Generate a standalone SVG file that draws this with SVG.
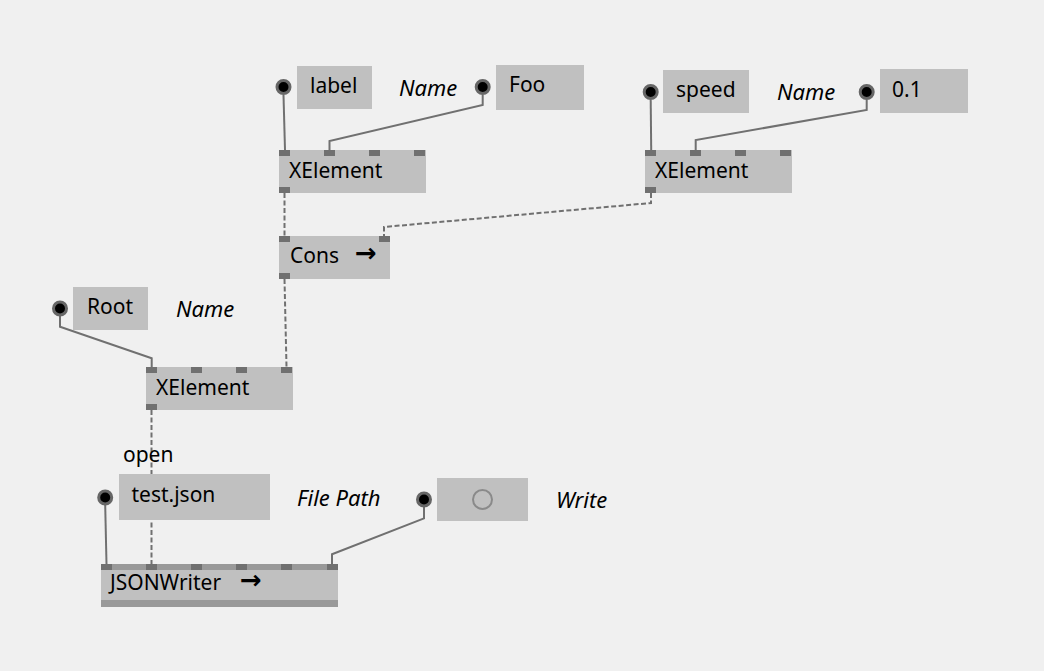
<svg xmlns="http://www.w3.org/2000/svg" width="1044" height="671" viewBox="0 0 1044 671">
<style>
.bg{fill:#f0f0f0}
.box{fill:#c0c0c0}
.pin{fill:#707070}
.strip{fill:#999999}
.t{font-family:"Noto Sans","Open Sans","DejaVu Sans",sans-serif;font-size:21px;fill:#000}
.i{font-family:"Noto Sans","Open Sans","DejaVu Sans",sans-serif;font-size:22px;font-style:italic;fill:#000}
.arr{font-family:"DejaVu Sans",sans-serif;font-weight:bold;font-size:26px}
.w{fill:none;stroke:#707070;stroke-width:2}
.d{fill:none;stroke:#707070;stroke-width:2;stroke-dasharray:5,2.5}
.io{fill:#000;stroke:#666;stroke-width:3}
</style>
<rect class="bg" x="0" y="0" width="1044" height="671"/>
<g id="connectors">
<path class="w" d="M283.5,95 L285,150"/>
<path class="w" d="M482.7,95 V105 L329.5,141 V150"/>
<path class="w" d="M650.7,100 L651.2,150"/>
<path class="w" d="M866.7,100 V110 L695.7,140 V150"/>
<path class="d" d="M284.5,193 V236"/>
<path class="d" d="M651,193 V203 L384,227 V236"/>
<path class="d" d="M284.5,279 L286.5,367"/>
<path class="w" d="M60,316 V326.7 L151.7,358.3 V367"/>
<path class="d" d="M151.5,410 V564"/>
<path class="w" d="M105.2,505 L106.5,564"/>
<path class="w" d="M424,507 V518.4 L332,554.3 V564"/>
</g>
<g id="io-label">
<circle class="io" cx="283.5" cy="87" r="6.5"/>
<rect class="box" x="297" y="66" width="75" height="43"/>
<text class="t" x="310" y="93">label</text>
</g>
<g id="lbl-name1"><text class="i" x="399" y="96">Name</text></g>
<g id="io-foo">
<circle class="io" cx="482.7" cy="87" r="6.5"/>
<rect class="box" x="496" y="65" width="88" height="45"/>
<text class="t" x="509" y="92">Foo</text>
</g>
<g id="xelement1">
<rect class="box" x="279" y="150" width="147" height="43"/>
<rect class="pin" x="279" y="150" width="11" height="6"/>
<rect class="pin" x="324" y="150" width="11" height="6"/>
<rect class="pin" x="369" y="150" width="11" height="6"/>
<rect class="pin" x="414" y="150" width="11" height="6"/>
<rect class="pin" x="279" y="187" width="11" height="6"/>
<text class="t" x="289" y="178">XElement</text>
</g>
<g id="io-speed">
<circle class="io" cx="650.7" cy="92" r="6.5"/>
<rect class="box" x="663" y="70" width="86" height="43"/>
<text class="t" x="676" y="97">speed</text>
</g>
<g id="lbl-name2"><text class="i" x="777" y="100">Name</text></g>
<g id="io-01">
<circle class="io" cx="866.7" cy="92" r="6.5"/>
<rect class="box" x="880" y="69" width="88" height="44"/>
<text class="t" x="892" y="97">0.1</text>
</g>
<g id="xelement2">
<rect class="box" x="645" y="150" width="147" height="43"/>
<rect class="pin" x="645" y="150" width="11" height="6"/>
<rect class="pin" x="690" y="150" width="11" height="6"/>
<rect class="pin" x="735" y="150" width="11" height="6"/>
<rect class="pin" x="780" y="150" width="11" height="6"/>
<rect class="pin" x="645" y="187" width="11" height="6"/>
<text class="t" x="655" y="178">XElement</text>
</g>
<g id="cons">
<rect class="box" x="279" y="236" width="111" height="43"/>
<rect class="pin" x="279" y="236" width="11" height="6"/>
<rect class="pin" x="379" y="236" width="11" height="6"/>
<rect class="pin" x="279" y="273" width="11" height="6"/>
<text class="t" x="290" y="263">Cons <tspan class="arr" x="355" y="262">→</tspan></text>
</g>
<g id="io-root">
<circle class="io" cx="60" cy="308.5" r="6.5"/>
<rect class="box" x="73" y="287" width="75" height="43"/>
<text class="t" x="87" y="314">Root</text>
</g>
<g id="lbl-name3"><text class="i" x="176" y="317">Name</text></g>
<g id="xelement3">
<rect class="box" x="146" y="367" width="147" height="43"/>
<rect class="pin" x="146" y="367" width="11" height="6"/>
<rect class="pin" x="191" y="367" width="11" height="6"/>
<rect class="pin" x="236" y="367" width="11" height="6"/>
<rect class="pin" x="281" y="367" width="11" height="6"/>
<rect class="pin" x="146" y="404" width="11" height="6"/>
<text class="t" x="156" y="395">XElement</text>
</g>
<g id="lbl-open"><text class="t" x="123" y="462">open</text></g>
<g id="io-testjson">
<circle class="io" cx="105.2" cy="497.5" r="6.5"/>
<rect class="box" x="119" y="474" width="151" height="46"/>
<text class="t" x="131.5" y="502">test.json</text>
</g>
<g id="lbl-filepath"><text class="i" x="297" y="506">File Path</text></g>
<g id="io-toggle">
<circle class="io" cx="424" cy="499.5" r="6.5"/>
<rect class="box" x="437" y="478" width="91" height="43"/>
<circle cx="482.5" cy="499.5" r="9.5" fill="none" stroke="#8a8a8a" stroke-width="2"/>
</g>
<g id="lbl-write"><text class="i" x="556" y="508">Write</text></g>
<g id="jsonwriter">
<rect class="box" x="101" y="564" width="237" height="43"/>
<rect class="strip" x="101" y="564" width="237" height="6"/>
<rect class="strip" x="101" y="600" width="237" height="7"/>
<rect class="pin" x="101" y="564" width="11" height="6"/>
<rect class="pin" x="146" y="564" width="11" height="6"/>
<rect class="pin" x="191" y="564" width="11" height="6"/>
<rect class="pin" x="236" y="564" width="11" height="6"/>
<rect class="pin" x="281" y="564" width="11" height="6"/>
<rect class="pin" x="327" y="564" width="11" height="6"/>
<text class="t" x="110" y="590">JSONWriter <tspan class="arr" x="240" y="589">→</tspan></text>
</g>
</svg>
